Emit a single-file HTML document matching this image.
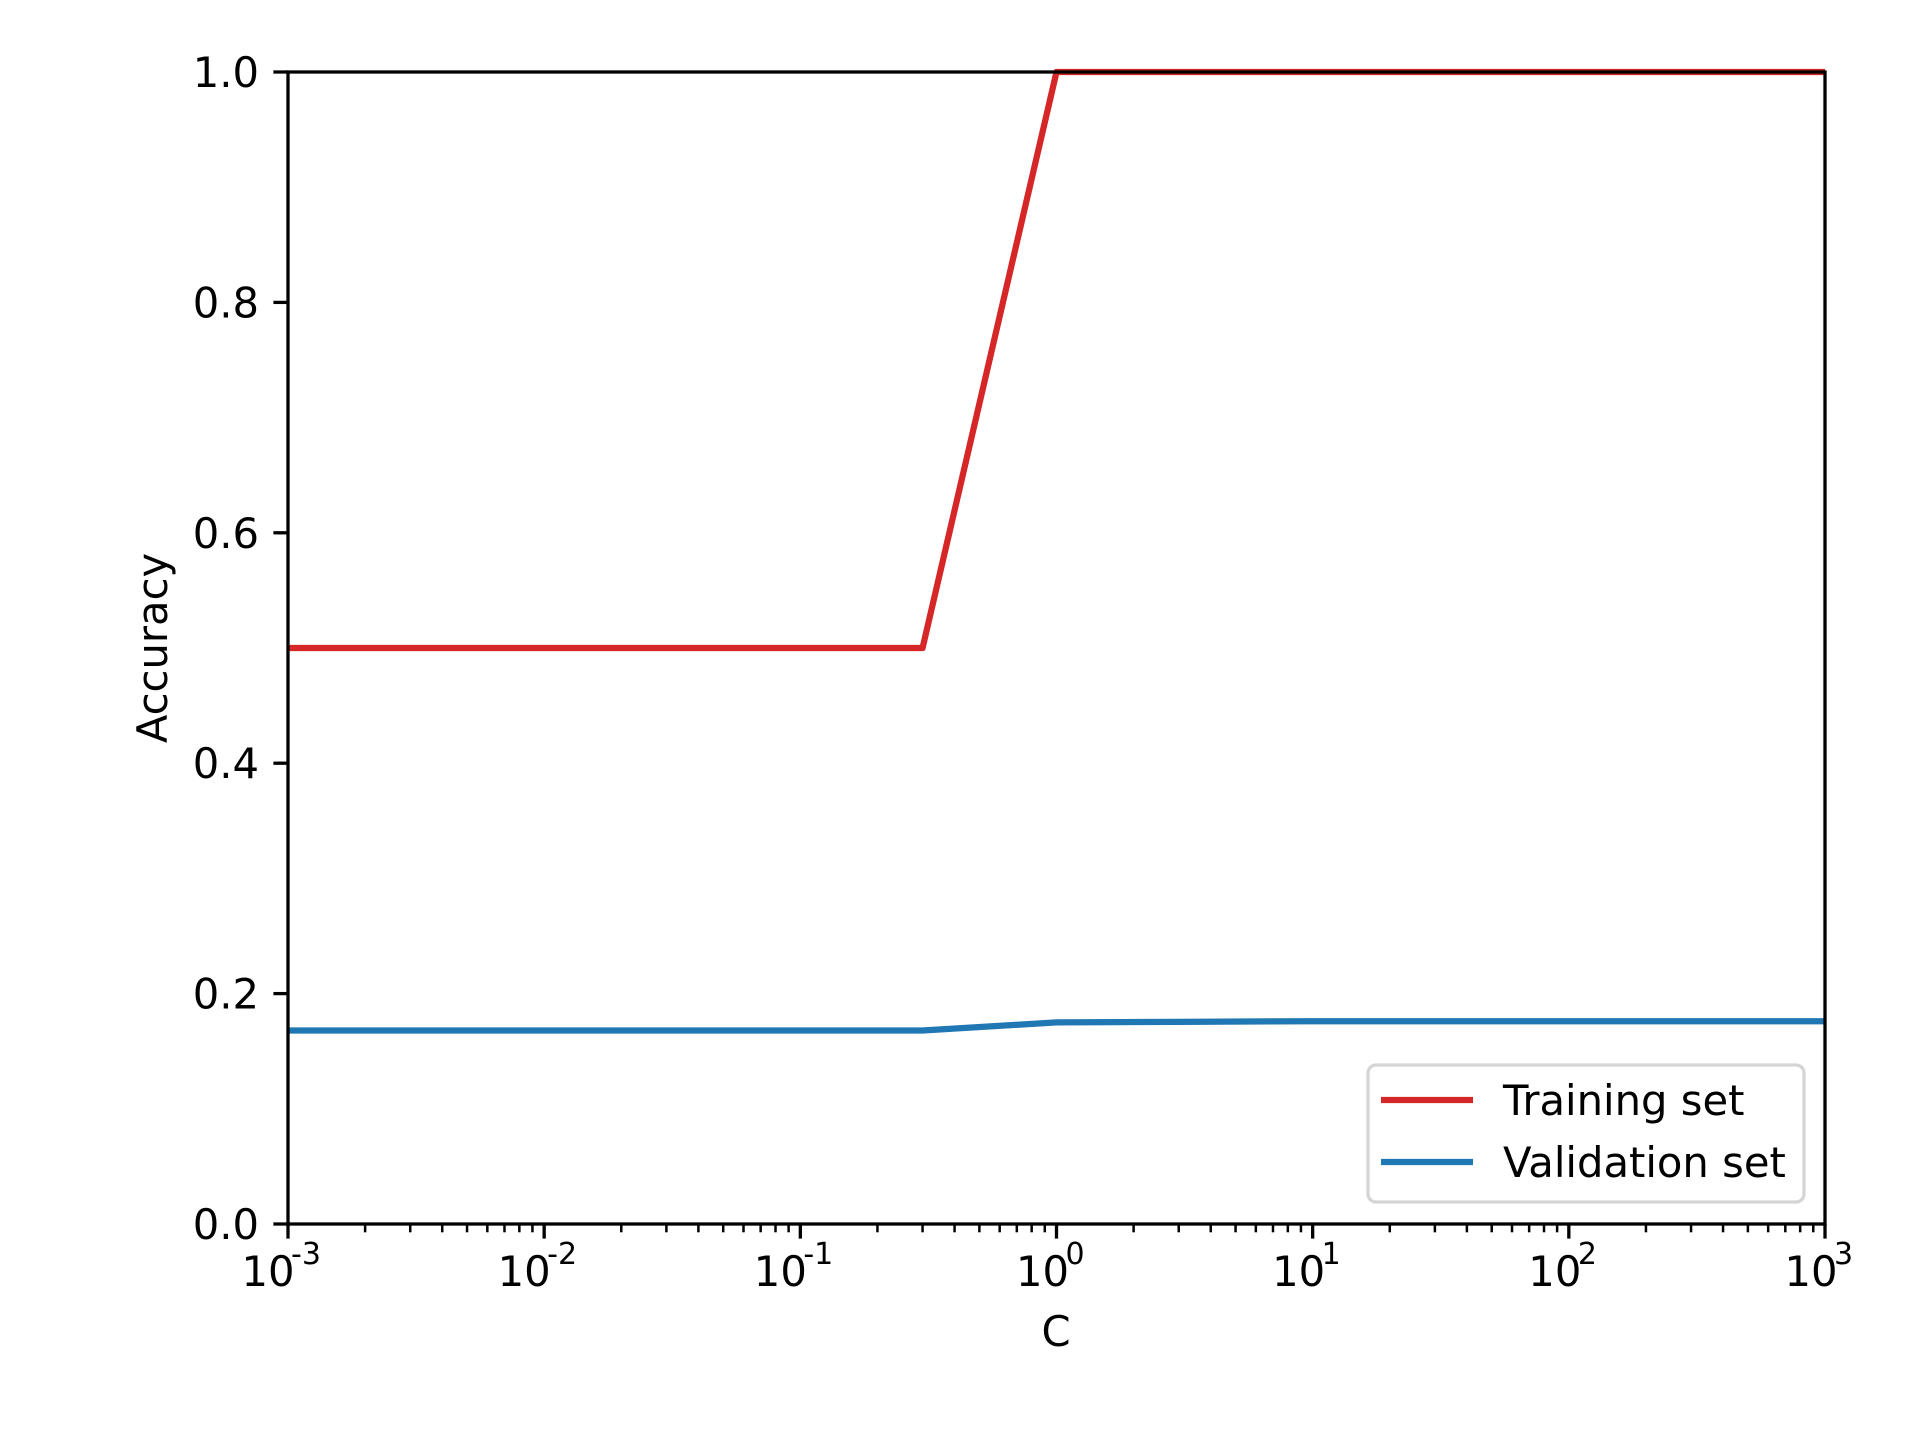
<!DOCTYPE html>
<html><head><meta charset="utf-8"><style>
html,body{margin:0;padding:0;background:#fff;}
svg{display:block;font-family:"DejaVu Sans","Liberation Sans",sans-serif;}
</style></head><body>
<svg id="chart" width="1920" height="1440" viewBox="0 0 1920 1440" xmlns="http://www.w3.org/2000/svg">
<rect width="1920" height="1440" fill="#fff"/>
<g id="marks"></g>
<g id="axes"></g>
<text transform="translate(167,648) rotate(-90)" text-anchor="middle" font-size="41.7">Accuracy</text>
<text x="1056" y="1346" text-anchor="middle" font-size="41.7">C</text>
<g>
<rect x="1368" y="1065" width="436" height="137" rx="8" fill="#fff" fill-opacity="0.8" stroke="#d5d5d5" stroke-width="3.3"/>
<line x1="1381" y1="1100" x2="1473" y2="1100" stroke="#d62728" stroke-width="6.25"/>
<text x="1503" y="1115" font-size="41.7">Training set</text>
<line x1="1381" y1="1162" x2="1473" y2="1162" stroke="#1f77b4" stroke-width="6.25"/>
<text x="1503" y="1177" font-size="41.7">Validation set</text>
</g>
</svg>
<script>
const cValues = [0.001, 0.003, 0.01, 0.03, 0.1, 0.3, 1, 3, 10, 30, 100, 300, 1000];
const trainAcc = [0.5, 0.5, 0.5, 0.5, 0.5, 0.5, 1.0, 1.0, 1.0, 1.0, 1.0, 1.0, 1.0];
const valAcc = [0.168, 0.168, 0.168, 0.168, 0.168, 0.168, 0.175, 0.1755, 0.176, 0.176, 0.176, 0.176, 0.176];
const yTicks = [0.0, 0.2, 0.4, 0.6, 0.8, 1.0];
const xExps = [-3, -2, -1, 0, 1, 2, 3];
const supMap = {"-3":"-3","-2":"-2","-1":"-1","0":"0","1":"1","2":"2","3":"3"};

const L=288, R=1825, T=72, B=1224;
const xs = v => L + (Math.log10(v) + 3) / 6 * (R - L);
const ys = v => B - v * (B - T);
const NS = "http://www.w3.org/2000/svg";
const marks = document.getElementById('marks');
const axes = document.getElementById('axes');
function mk(tag, attrs, parent){const e=document.createElementNS(NS,tag);for(const k in attrs)e.setAttribute(k,attrs[k]);parent.appendChild(e);return e;}

function series(vals, color, name){
  const p = mk('polyline', {points: cValues.map((c,i)=>xs(c)+','+ys(vals[i])).join(' '), fill:'none', stroke:color, 'stroke-width':6.25, 'stroke-linejoin':'round'}, marks);
  
  
}
series(trainAcc, '#d62728', 'training-line');
series(valAcc, '#1f77b4', 'validation-line');

const frame = mk('rect', {x:L, y:T, width:R-L, height:B-T, fill:'none', stroke:'#000', 'stroke-width':3.3}, axes);



yTicks.forEach(v=>{
  const y = ys(v);
  const t = mk('line', {x1:L-14.6, x2:L, y1:y, y2:y, stroke:'#000', 'stroke-width':3.3}, axes);
  
  
  const tx = mk('text', {x:L-29, y:y+15, 'text-anchor':'end', 'font-size':41.7}, axes);
  tx.textContent = v.toFixed(1);
  
  
});

xExps.forEach(e=>{
  const x = xs(Math.pow(10, e));
  const neg = e < 0;
  const tx = mk('text', {x:x-(neg?20:14), y:B+62, 'text-anchor':'middle', 'font-size':41.7}, axes);
  tx.textContent = '10';
  
  
  const sp = mk('text', {x:x+(neg?3:9), y:B+40, 'text-anchor':'start', 'font-size':30}, axes);
  sp.textContent = supMap[String(e)];
  
  
  const t = mk('line', {x1:x, x2:x, y1:B, y2:B+14.6, stroke:'#000', 'stroke-width':3.3}, axes);
  
  
  if (e < 3) {
    for (let m=2; m<=9; m++){
      const xm = xs(m*Math.pow(10,e));
      const mt = mk('line', {x1:xm, x2:xm, y1:B, y2:B+8.3, stroke:'#000', 'stroke-width':2.5}, axes);
      
      
    }
  }
});
</script>
</body></html>
